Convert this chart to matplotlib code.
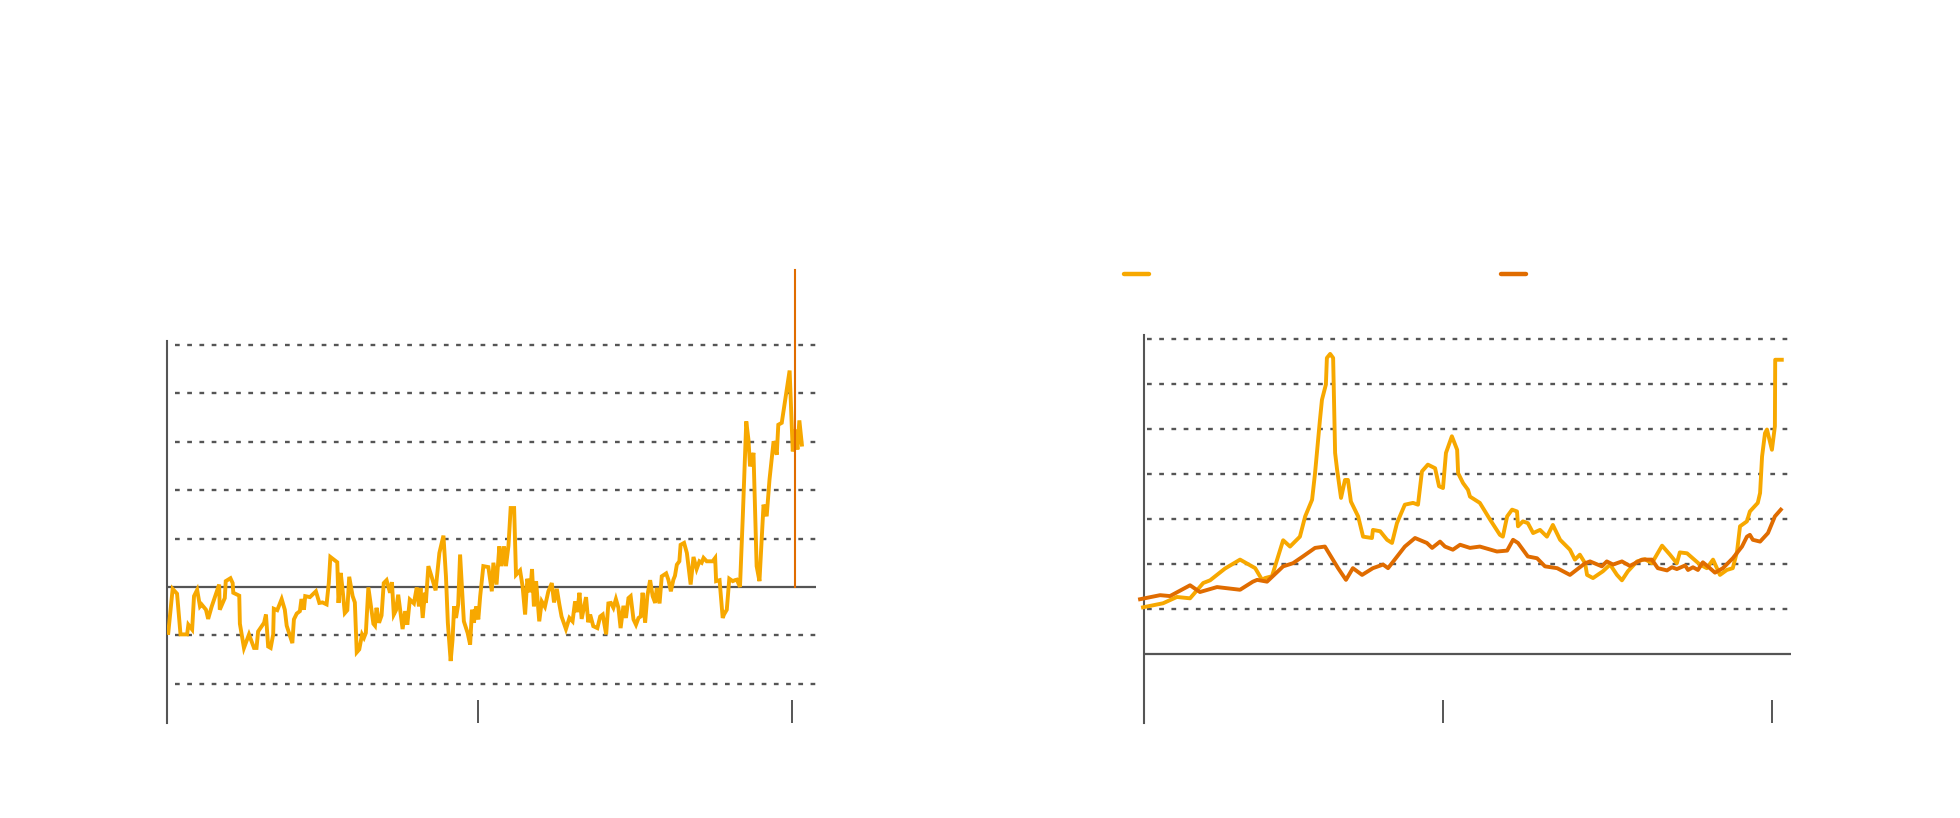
# Two-panel line chart, no text: monthly series (left) and two smoothed series (right)
import matplotlib.pyplot as plt
from matplotlib.lines import Line2D

plt.rcParams['lines.scale_dashes'] = False

# --- colours ---
YELLOW = '#f7a800'
ORANGE = '#e06c00'
GREY = '#555555'

# =============================================================================
# DATA
# =============================================================================
# Left panel: one jagged series around zero
left_years = [
    2004.14, 2004.28, 2004.42, 2004.53, 2004.74, 2004.78, 2004.90, 2004.96, 2005.06, 2005.15,
    2005.20, 2005.34, 2005.41, 2005.52, 2005.76, 2005.78, 2005.94, 2005.97, 2006.12, 2006.19,
    2006.21, 2006.40, 2006.42, 2006.55, 2006.71, 2006.87, 2006.95, 2007.00, 2007.19, 2007.25,
    2007.32, 2007.40, 2007.48, 2007.50, 2007.61, 2007.75, 2007.85, 2007.91, 2008.09, 2008.14,
    2008.23, 2008.33, 2008.38, 2008.46, 2008.50, 2008.65, 2008.84, 2008.95, 2009.05, 2009.18,
    2009.25, 2009.30, 2009.52, 2009.56, 2009.63, 2009.69, 2009.76, 2009.84, 2009.90, 2010.01,
    2010.08, 2010.14, 2010.22, 2010.31, 2010.37, 2010.43, 2010.51, 2010.67, 2010.72, 2010.77,
    2010.85, 2010.93, 2011.00, 2011.09, 2011.20, 2011.26, 2011.32, 2011.39, 2011.46, 2011.60,
    2011.68, 2011.75, 2011.83, 2011.96, 2012.05, 2012.12, 2012.17, 2012.24, 2012.31, 2012.34,
    2012.42, 2012.52, 2012.65, 2012.77, 2012.90, 2012.98, 2013.04, 2013.13, 2013.19, 2013.24,
    2013.30, 2013.37, 2013.43, 2013.55, 2013.67, 2013.75, 2013.81, 2013.87, 2013.94, 2014.01,
    2014.07, 2014.17, 2014.33, 2014.44, 2014.49, 2014.59, 2014.68, 2014.75, 2014.83, 2014.89,
    2014.97, 2015.04, 2015.15, 2015.21, 2015.34, 2015.42, 2015.50, 2015.57, 2015.66, 2015.72,
    2015.78, 2015.85, 2015.95, 2016.03, 2016.13, 2016.24, 2016.35, 2016.42, 2016.51, 2016.59,
    2016.66, 2016.80, 2016.91, 2017.01, 2017.09, 2017.16, 2017.23, 2017.30, 2017.44, 2017.51,
    2017.57, 2017.67, 2017.80, 2017.89, 2017.97, 2018.08, 2018.15, 2018.23, 2018.31, 2018.39,
    2018.47, 2018.54, 2018.63, 2018.71, 2018.79, 2018.86, 2018.95, 2019.03, 2019.11, 2019.18,
    2019.24, 2019.32, 2019.39, 2019.48, 2019.56, 2019.64, 2019.69, 2019.78, 2019.85, 2019.99,
    2020.06, 2020.14, 2020.22, 2020.27, 2020.33, 2020.41, 2020.45, 2020.56, 2020.65, 2020.77,
    2020.86, 2020.96, 2021.05, 2021.12, 2021.18, 2021.28, 2021.39, 2021.47, 2021.55, 2021.58,
    2021.69, 2021.79, 2021.83, 2021.92, 2022.00, 2022.11, 2022.18, 2022.24, 2022.34, 2022.43,
    2022.54, 2022.61, 2022.66, 2022.77, 2022.87, 2022.96, 2023.09, 2023.19, 2023.28, 2023.41,
    2023.51, 2023.56, 2023.67, 2023.92, 2024.02, 2024.10, 2024.17, 2024.23, 2024.31,
]
left_values = [
    -0.95, -0.04, -0.14, -0.98, -0.98, -0.78, -0.88, -0.19, -0.06, -0.40,
    -0.36, -0.47, -0.66, -0.41, 0.05, -0.47, -0.23, 0.12, 0.18, 0.08,
    -0.12, -0.18, -0.76, -1.26, -0.98, -1.26, -1.26, -0.92, -0.74, -0.57,
    -1.23, -1.26, -0.98, -0.45, -0.48, -0.25, -0.47, -0.80, -1.16, -0.67,
    -0.55, -0.50, -0.25, -0.47, -0.19, -0.21, -0.09, -0.33, -0.32, -0.36,
    0.08, 0.62, 0.51, -0.33, 0.29, -0.06, -0.54, -0.48, 0.21, -0.19,
    -0.32, -1.35, -1.29, -0.98, -1.05, -0.95, -0.01, -0.76, -0.80, -0.43,
    -0.74, -0.59, 0.08, 0.14, -0.12, 0.10, -0.57, -0.48, -0.16, -0.87,
    -0.50, -0.78, -0.26, -0.34, -0.01, -0.40, -0.02, -0.64, -0.12, -0.33,
    0.43, 0.22, -0.07, 0.70, 1.06, 0.22, -0.74, -1.53, -1.09, -0.40,
    -0.64, -0.36, 0.67, -0.71, -0.95, -1.19, -0.47, -0.74, -0.40, -0.67,
    -0.19, 0.43, 0.41, -0.09, 0.50, 0.05, 0.84, 0.43, 0.84, 0.43,
    0.85, 1.63, 1.63, 0.25, 0.34, 0.01, -0.57, 0.17, -0.11, 0.37,
    -0.40, 0.12, -0.71, -0.30, -0.41, -0.09, 0.08, -0.32, -0.04, -0.36,
    -0.61, -0.87, -0.64, -0.71, -0.30, -0.52, -0.12, -0.66, -0.21, -0.73,
    -0.57, -0.81, -0.85, -0.61, -0.57, -0.98, -0.34, -0.33, -0.43, -0.25,
    -0.43, -0.85, -0.39, -0.64, -0.23, -0.19, -0.67, -0.78, -0.64, -0.61,
    -0.12, -0.74, -0.19, 0.14, -0.19, -0.33, -0.02, -0.34, 0.22, 0.28,
    0.15, -0.09, 0.15, 0.23, 0.46, 0.53, 0.87, 0.91, 0.70, 0.05,
    0.62, 0.37, 0.53, 0.50, 0.60, 0.53, 0.53, 0.53, 0.60, 0.12,
    0.14, -0.64, -0.57, -0.47, 0.17, 0.12, 0.14, 0.15, 0.00, 1.46,
    3.42, 3.04, 2.49, 2.77, 0.43, 0.12, 1.70, 1.46, 2.22, 3.01,
    2.73, 3.35, 3.39, 4.47, 2.80, 3.25, 2.84, 3.44, 2.94,
]
left_marker_year = 2024.10     # orange vertical marker
left_ticks = [2014, 2024]
left_grid = [-2, -1, 1, 2, 3, 4, 5]

# Right panel: two smoother series
right_years_yellow = [
    2004.88, 2005.49, 2005.91, 2006.31, 2006.71, 2006.92, 2007.37, 2007.83, 2008.29, 2008.50,
    2008.59, 2008.80, 2009.14, 2009.35, 2009.65, 2009.81, 2010.02, 2010.11, 2010.26, 2010.32,
    2010.44, 2010.47, 2010.57, 2010.66, 2010.72, 2010.78, 2010.90, 2011.02, 2011.11, 2011.20,
    2011.42, 2011.57, 2011.84, 2011.87, 2012.09, 2012.30, 2012.45, 2012.60, 2012.84, 2013.09,
    2013.24, 2013.36, 2013.54, 2013.76, 2013.88, 2014.00, 2014.09, 2014.27, 2014.43, 2014.46,
    2014.61, 2014.76, 2014.82, 2015.12, 2015.43, 2015.73, 2015.82, 2015.95, 2016.10, 2016.25,
    2016.28, 2016.43, 2016.58, 2016.74, 2016.95, 2017.16, 2017.34, 2017.56, 2017.86, 2018.01,
    2018.16, 2018.32, 2018.38, 2018.56, 2018.86, 2019.08, 2019.29, 2019.44, 2019.62, 2019.90,
    2020.14, 2020.35, 2020.66, 2020.90, 2021.11, 2021.20, 2021.42, 2021.81, 2022.02, 2022.21,
    2022.42, 2022.63, 2022.81, 2022.94, 2023.03, 2023.24, 2023.33, 2023.57, 2023.64, 2023.70,
    2023.79, 2023.85, 2024.00, 2024.09, 2024.10, 2024.30,
]
right_yellow = [
    1.04, 1.13, 1.27, 1.24, 1.58, 1.64, 1.90, 2.10, 1.91, 1.65,
    1.69, 1.73, 2.53, 2.39, 2.61, 3.06, 3.43, 4.02, 5.21, 5.65,
    5.99, 6.58, 6.67, 6.58, 4.47, 4.10, 3.47, 3.87, 3.87, 3.39,
    3.06, 2.61, 2.58, 2.76, 2.73, 2.54, 2.47, 2.91, 3.32, 3.36,
    3.32, 4.06, 4.21, 4.13, 3.73, 3.69, 4.47, 4.84, 4.54, 4.02,
    3.80, 3.65, 3.50, 3.36, 2.99, 2.65, 2.61, 3.06, 3.21, 3.17,
    2.84, 2.95, 2.91, 2.69, 2.76, 2.61, 2.87, 2.54, 2.32, 2.10,
    2.21, 2.02, 1.76, 1.69, 1.84, 1.99, 1.76, 1.64, 1.84, 2.06,
    2.11, 2.02, 2.41, 2.21, 2.02, 2.26, 2.24, 1.99, 1.91, 2.10,
    1.76, 1.87, 1.91, 2.28, 2.84, 2.95, 3.17, 3.36, 3.58, 4.39,
    4.91, 4.99, 4.54, 5.06, 6.54, 6.54,
]
right_years_orange = [
    2004.79, 2005.40, 2005.70, 2006.31, 2006.61, 2007.13, 2007.83, 2008.22, 2008.35, 2008.65,
    2009.14, 2009.44, 2009.74, 2010.11, 2010.41, 2010.81, 2011.05, 2011.26, 2011.54, 2011.87,
    2012.18, 2012.33, 2012.84, 2013.15, 2013.51, 2013.67, 2013.91, 2014.06, 2014.30, 2014.52,
    2014.82, 2015.12, 2015.64, 2015.95, 2016.13, 2016.28, 2016.58, 2016.86, 2017.10, 2017.47,
    2017.86, 2018.32, 2018.47, 2018.83, 2018.98, 2019.17, 2019.44, 2019.68, 2020.05, 2020.35,
    2020.53, 2020.81, 2020.96, 2021.11, 2021.36, 2021.45, 2021.60, 2021.75, 2021.90, 2022.05,
    2022.27, 2022.51, 2022.81, 2023.09, 2023.24, 2023.33, 2023.42, 2023.64, 2023.88, 2024.09,
    2024.27,
]
right_orange = [
    1.22, 1.31, 1.29, 1.53, 1.38, 1.49, 1.43, 1.61, 1.65, 1.61,
    1.95, 2.02, 2.17, 2.36, 2.39, 1.91, 1.65, 1.91, 1.76, 1.91,
    1.99, 1.91, 2.39, 2.58, 2.47, 2.36, 2.50, 2.39, 2.32, 2.43,
    2.36, 2.39, 2.28, 2.30, 2.54, 2.47, 2.17, 2.13, 1.95, 1.91,
    1.76, 2.02, 2.06, 1.95, 2.06, 1.99, 2.06, 1.96, 2.10, 2.10,
    1.91, 1.86, 1.93, 1.89, 1.97, 1.87, 1.93, 1.87, 2.04, 1.95,
    1.81, 1.91, 2.13, 2.39, 2.61, 2.65, 2.54, 2.50, 2.69, 3.06,
    3.21,
]
right_ticks = [2014, 2024]
right_grid = [1, 2, 3, 4, 5, 6, 7]

# =============================================================================
# FIGURE: axes placed in pixel terms
# =============================================================================
W, H = 1960, 818
fig = plt.figure(figsize=(W / 100, H / 100), dpi=100)


def px_axes(x0, x1, ytop, ybot):
    return fig.add_axes([x0 / W, 1 - ybot / H, (x1 - x0) / W, (ybot - ytop) / H])


def style(ax, grid, ticks, grid_start):
    for s in ['top', 'right', 'bottom']:
        ax.spines[s].set_visible(False)
    ax.spines['left'].set_color(GREY)
    ax.spines['left'].set_linewidth(1.5)
    ax.set_yticks([])
    ax.set_xticks(ticks)
    ax.tick_params(axis='x', direction='in', length=16.5, width=1.4,
                   color=GREY, labelbottom=False)
    for g in grid:
        ax.axhline(g, xmin=grid_start, color=GREY, lw=1.7,
                   ls=(0, (3.4, 5.4)), zorder=1)
    ax.axhline(0, color=GREY, lw=1.6, zorder=1)


# --- left panel ---
ax1 = px_axes(167, 816, 341, 723)
ax1.set_xlim(2004.10, 2024.76)
ax1.set_ylim(-2.81, 5.08)
style(ax1, left_grid, left_ticks, 0.012)
ax1.plot(left_years, left_values, color=YELLOW, lw=2.8, zorder=3,
         solid_joinstyle='miter')
lo, hi = ax1.get_ylim()
ax1.axvline(left_marker_year, ymin=(0 - lo) / (hi - lo), ymax=(6.55 - lo) / (hi - lo),
            color=ORANGE, lw=1.5, clip_on=False, zorder=4)

# --- right panel ---
ax2 = px_axes(1144, 1791, 335, 723)
ax2.set_xlim(2004.91, 2024.58)
ax2.set_ylim(-1.53, 7.09)
style(ax2, right_grid, right_ticks, 0.005)
ax2.plot(right_years_yellow, right_yellow, color=YELLOW, lw=2.8, zorder=3,
         solid_joinstyle='round', clip_on=False)
ax2.plot(right_years_orange, right_orange, color=ORANGE, lw=2.8, zorder=4,
         solid_joinstyle='round', clip_on=False)

# --- legend keys (no labels in the original) ---
for x0, col in [(1124, YELLOW), (1501, ORANGE)]:
    fig.add_artist(Line2D([x0 / W, (x0 + 25) / W], [1 - 274 / H] * 2,
                          transform=fig.transFigure, color=col, lw=3.2,
                          solid_capstyle='round'))

fig.savefig('out.png', dpi=100)
